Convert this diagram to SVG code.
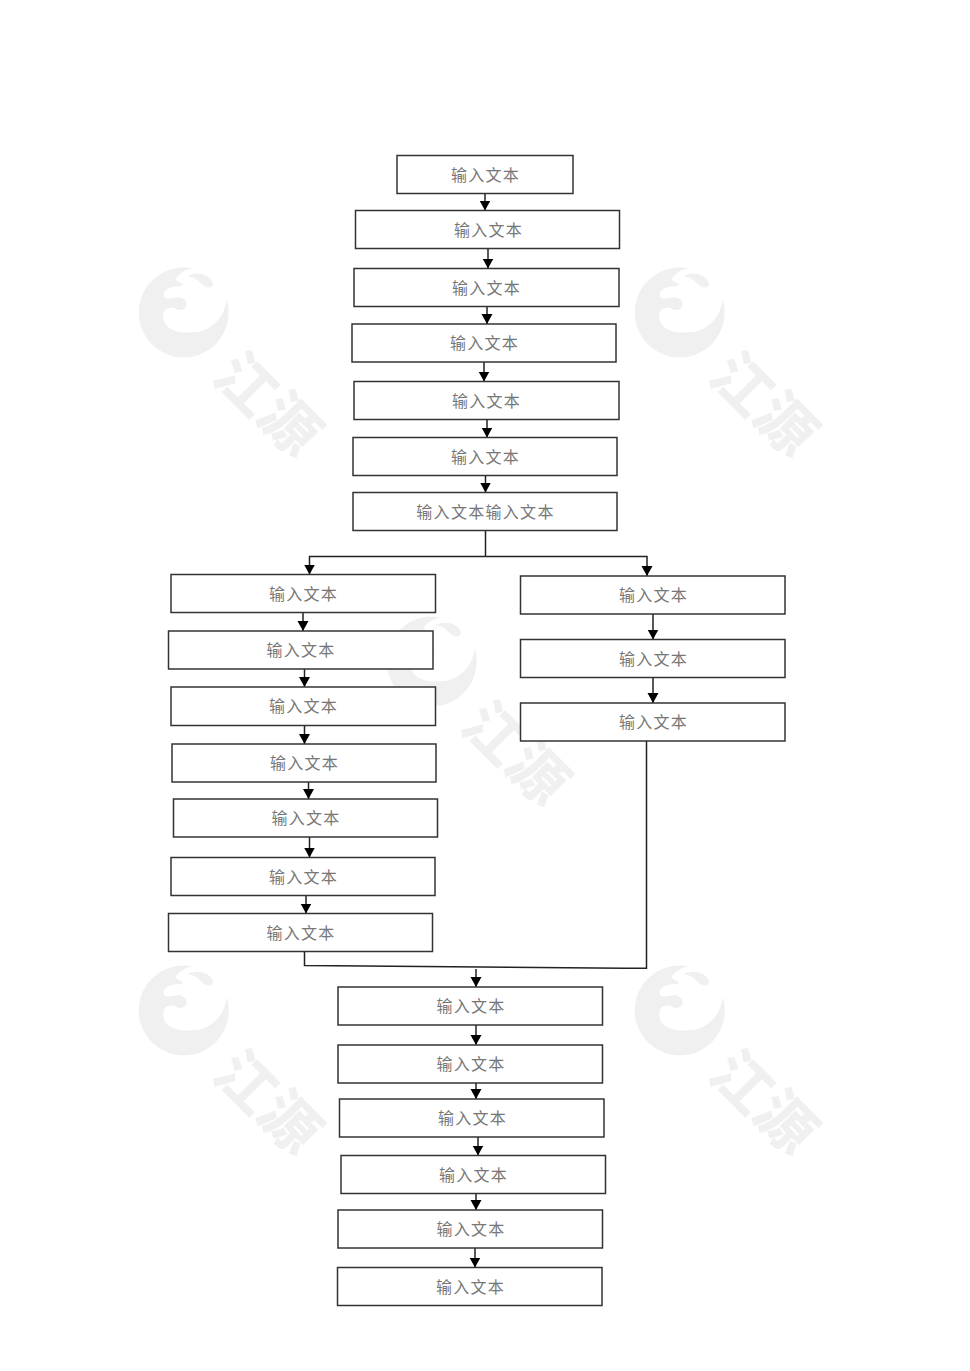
<svg xmlns="http://www.w3.org/2000/svg" width="970" height="1371" viewBox="0 0 970 1371">
<style>
.b{fill:#fff;stroke:#333;stroke-width:1.5}
.t{font-family:"Noto Sans CJK SC","Liberation Serif",serif;font-size:16px;letter-spacing:1.3px;fill:#777;text-anchor:middle;dominant-baseline:central}
.c{fill:none;stroke:#222;stroke-width:1.5}
.w{fill:#f0f0f0}
.wt{font-family:"Noto Sans CJK SC",sans-serif;font-weight:700;font-size:58px;fill:#f0f0f0;stroke:#f0f0f0;stroke-width:.8px;stroke-linejoin:round;text-anchor:middle;dominant-baseline:central}
</style>
<defs>
<marker id="a" markerUnits="userSpaceOnUse" markerWidth="11" markerHeight="12" refX="10" refY="6" orient="auto"><path d="M0 0.500L10 6L0 11.500Z" fill="#000"/></marker>
<g id="wm">
<path class="w" transform="translate(136 264) scale(.3333)" fill-rule="evenodd" d="M170 13A135 135 0 1 0 272 105C268 135 258 158 240 175C218 196 195 205 170 205C140 208 110 202 92 185C80 172 80 152 85 140C92 130 110 128 120 134C135 142 150 138 152 122C152 108 140 100 125 100C110 102 92 108 84 98C78 88 88 78 100 72C115 64 130 68 140 65C142 56 128 54 118 47C125 32 145 18 170 13ZM155 37C165 28 190 26 210 35C226 43 236 58 228 67C218 75 205 68 195 58C185 47 172 38 155 37Z"/>
<text class="wt" transform="translate(249 381) rotate(45)">江</text>
<text class="wt" transform="translate(293 421) rotate(45)">源</text>
</g>
</defs>
<g id="watermarks">
<use href="#wm"/>
<use href="#wm" x="496"/>
<use href="#wm" x="248" y="349"/>
<use href="#wm" y="698"/>
<use href="#wm" x="496" y="698"/>
</g>
<g id="connectors">
<path class="c" marker-end="url(#a)" d="M485 193.500V210.500"/>
<path class="c" marker-end="url(#a)" d="M488 248.500V268.500"/>
<path class="c" marker-end="url(#a)" d="M487 306.500V324"/>
<path class="c" marker-end="url(#a)" d="M484 362V381.500"/>
<path class="c" marker-end="url(#a)" d="M487 419.500V437.500"/>
<path class="c" marker-end="url(#a)" d="M485.500 475.500V492.500"/>
<path class="c" d="M485.500 530.500V556.500"/>
<path class="c" marker-end="url(#a)" d="M485.500 556.500H309.500V574.500"/>
<path class="c" marker-end="url(#a)" d="M485.500 556.500H647V576"/>
<path class="c" marker-end="url(#a)" d="M303 612.500V631"/>
<path class="c" marker-end="url(#a)" d="M304.500 669V687"/>
<path class="c" marker-end="url(#a)" d="M304.500 725V744"/>
<path class="c" marker-end="url(#a)" d="M308.500 782V799"/>
<path class="c" marker-end="url(#a)" d="M309.500 837V857.500"/>
<path class="c" marker-end="url(#a)" d="M306 895.500V913.500"/>
<path class="c" marker-end="url(#a)" d="M653 614V639.500"/>
<path class="c" marker-end="url(#a)" d="M653 677.500V703"/>
<path class="c" d="M646.500 741V968.300H625L305 965.500H304.500V951.500"/>
<path class="c" marker-end="url(#a)" d="M476 969V987"/>
<path class="c" marker-end="url(#a)" d="M476 1025V1045"/>
<path class="c" marker-end="url(#a)" d="M476 1083V1099"/>
<path class="c" marker-end="url(#a)" d="M478 1137V1155.500"/>
<path class="c" marker-end="url(#a)" d="M476 1193.500V1210"/>
<path class="c" marker-end="url(#a)" d="M475 1248V1267.500"/>
</g>
<g id="n1"><rect class="b" x="397" y="155.500" width="176" height="38"/><text class="t" x="485.500" y="173.500">输入文本</text></g>
<g id="n2"><rect class="b" x="355.500" y="210.500" width="264" height="38"/><text class="t" x="488.500" y="228.500">输入文本</text></g>
<g id="n3"><rect class="b" x="354" y="268.500" width="265" height="38"/><text class="t" x="486.500" y="286.500">输入文本</text></g>
<g id="n4"><rect class="b" x="352" y="324" width="264" height="38"/><text class="t" x="484.500" y="342">输入文本</text></g>
<g id="n5"><rect class="b" x="354" y="381.500" width="265" height="38"/><text class="t" x="486.500" y="399.500">输入文本</text></g>
<g id="n6"><rect class="b" x="353" y="437.500" width="264" height="38"/><text class="t" x="485.500" y="455.500">输入文本</text></g>
<g id="n7"><rect class="b" x="353" y="492.500" width="264" height="38"/><text class="t" x="485.500" y="510.500">输入文本输入文本</text></g>
<g id="n8"><rect class="b" x="171" y="574.500" width="264.500" height="38"/><text class="t" x="303.500" y="592.500">输入文本</text></g>
<g id="n9"><rect class="b" x="168.500" y="631" width="264.500" height="38"/><text class="t" x="301" y="649">输入文本</text></g>
<g id="n10"><rect class="b" x="171" y="687" width="264.500" height="38.500"/><text class="t" x="303.500" y="705">输入文本</text></g>
<g id="n11"><rect class="b" x="172" y="744" width="264" height="38"/><text class="t" x="304.500" y="762">输入文本</text></g>
<g id="n12"><rect class="b" x="173.500" y="799" width="264" height="38"/><text class="t" x="306" y="817">输入文本</text></g>
<g id="n13"><rect class="b" x="171" y="857.500" width="264" height="38"/><text class="t" x="303.500" y="875.500">输入文本</text></g>
<g id="n14"><rect class="b" x="168.500" y="913.500" width="264" height="38"/><text class="t" x="301" y="931.500">输入文本</text></g>
<g id="n15"><rect class="b" x="520.500" y="576" width="264.500" height="38"/><text class="t" x="653.500" y="594">输入文本</text></g>
<g id="n16"><rect class="b" x="520.500" y="639.500" width="264.500" height="38"/><text class="t" x="653.500" y="657.500">输入文本</text></g>
<g id="n17"><rect class="b" x="520.500" y="703" width="264.500" height="38"/><text class="t" x="653.500" y="721">输入文本</text></g>
<g id="n18"><rect class="b" x="338" y="987" width="264.500" height="38"/><text class="t" x="471" y="1005">输入文本</text></g>
<g id="n19"><rect class="b" x="338" y="1045" width="264.500" height="38"/><text class="t" x="471" y="1063">输入文本</text></g>
<g id="n20"><rect class="b" x="339.500" y="1099" width="264.500" height="38"/><text class="t" x="472.500" y="1117">输入文本</text></g>
<g id="n21"><rect class="b" x="341" y="1155.500" width="264.500" height="38"/><text class="t" x="473.500" y="1173.500">输入文本</text></g>
<g id="n22"><rect class="b" x="338" y="1210" width="264.500" height="38"/><text class="t" x="471" y="1228">输入文本</text></g>
<g id="n23"><rect class="b" x="337.500" y="1267.500" width="264.500" height="38"/><text class="t" x="470.500" y="1285.500">输入文本</text></g>
</svg>
